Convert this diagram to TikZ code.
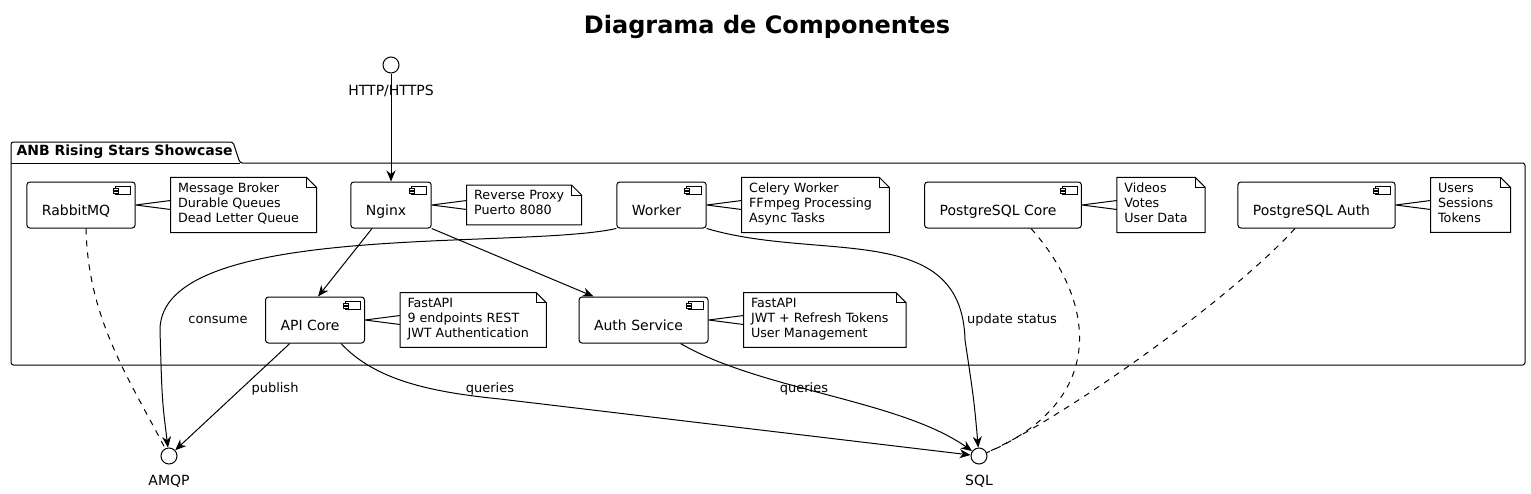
\documentclass[tikz,border=0pt]{standalone}
\usepackage{fontspec}
\setmainfont{DejaVu Sans}
\usetikzlibrary{arrows.meta, positioning, calc}
\tikzstyle{comp} = [draw, rounded corners=3pt, font=\fontsize{14}{17}\selectfont, inner xsep=15pt, inner ysep=11pt, text height=22pt, text depth=2pt, execute at end node={\hspace*{10pt}}, append after command={\pgfextra{
    \draw[line width=0.8pt, rounded corners=0pt] ($(\tikzlastnode.north east)+(-20,5)$) rectangle ($(\tikzlastnode.north east)+(-5,13)$);
    \draw[line width=0.8pt, rounded corners=0pt, fill=white] ($(\tikzlastnode.north east)+(-22,7)$) rectangle ($(\tikzlastnode.north east)+(-17,9)$);
    \draw[line width=0.8pt, rounded corners=0pt, fill=white] ($(\tikzlastnode.north east)+(-22,10)$) rectangle ($(\tikzlastnode.north east)+(-17,12)$);}}]
\tikzstyle{notebox} = [font=\fontsize{12.7}{15}\selectfont, align=left, inner xsep=7pt, inner ysep=5pt, execute at begin node=\strut, execute at end node=\strut, append after command={\pgfextra{
    \draw (\tikzlastnode.north west) -- (\tikzlastnode.north east) -- ($(\tikzlastnode.north east)+(10,10)$) -- ($(\tikzlastnode.south east)+(10,0)$) -- (\tikzlastnode.south west) -- cycle;
    \draw (\tikzlastnode.north east) -- ($(\tikzlastnode.north east)+(0,10)$) -- ($(\tikzlastnode.north east)+(10,10)$);}}]
\tikzstyle{iface} = [circle, draw, minimum size=16pt, inner sep=0pt]
\tikzstyle{ifacetext} = [font=\fontsize{14}{17}\selectfont, inner sep=0pt]
\tikzstyle{lbl} = [font=\fontsize{13}{15}\selectfont, inner sep=0pt]
\tikzstyle{arrow} = [-{Stealth[length=11pt, width=9pt, inset=3.5pt]}]
\tikzstyle{depline} = [dash pattern=on 6pt off 6pt]
\begin{document}
\begin{tikzpicture}[x=1pt, y=-1pt, line width=1pt]
\useasboundingbox (0,0) rectangle (1531,493);

% Title
\node (title) [font=\bfseries\fontsize{24}{28}\selectfont] at (767,27) {Diagrama de Componentes};

% Package
\draw[rounded corners=2.5pt] (11,365) -- (11,142) -- (233,142) -- (240,163) -- (1525,163) -- (1525,365) -- cycle;
\draw (11,163) -- (240,163);
\node (pkgname) [anchor=west, font=\bfseries\fontsize{14}{16}\selectfont, inner sep=0pt] at (16,152) {ANB Rising Stars Showcase};

% Interfaces
\node (http) [iface] at (391,65) {};
\node (httptxt) [ifacetext] at (391,91) {HTTP/HTTPS};
\node (amqp) [iface] at (169,456) {};
\node (amqptxt) [ifacetext] at (169,481) {AMQP};
\node (sql) [iface] at (979,456) {};
\node (sqltxt) [ifacetext] at (979,481) {SQL};

% Components
\node (rabbit) [comp] at (81,205) {RabbitMQ};
\node (nginx) [comp] at (391,205) {Nginx};
\node (worker) [comp] at (661.5,205) {Worker};
\node (pgcore) [comp] at (1003,205) {PostgreSQL Core};
\node (pgauth) [comp] at (1316.5,205) {PostgreSQL Auth};
\node (api) [comp] at (315,320) {API Core};
\node (auth) [comp] at (643.5,320) {Auth Service};

% Notes
\node (rabbitnote) [notebox, right=35pt of rabbit] {Message Broker\\Durable Queues\\Dead Letter Queue};
\node (nginxnote) [notebox, right=35pt of nginx] {Reverse Proxy\\Puerto 8080};
\node (workernote) [notebox, right=35pt of worker] {Celery Worker\\FFmpeg Processing\\Async Tasks};
\node (pgcorenote) [notebox, right=35pt of pgcore] {Videos\\Votes\\User Data};
\node (pgauthnote) [notebox, right=35pt of pgauth] {Users\\Sessions\\Tokens};
\node (apinote) [notebox, right=35pt of api] {FastAPI\\9 endpoints REST\\JWT Authentication};
\node (authnote) [notebox, right=35pt of auth] {FastAPI\\JWT + Refresh Tokens\\User Management};

% Note links
\draw (rabbit.east) -- ([yshift=4.5pt]rabbitnote.west) (rabbit.east) -- ([yshift=-4.5pt]rabbitnote.west);
\draw (nginx.east) -- ([yshift=4.5pt]nginxnote.west) (nginx.east) -- ([yshift=-4.5pt]nginxnote.west);
\draw (worker.east) -- ([yshift=4.5pt]workernote.west) (worker.east) -- ([yshift=-4.5pt]workernote.west);
\draw (pgcore.east) -- ([yshift=4.5pt]pgcorenote.west) (pgcore.east) -- ([yshift=-4.5pt]pgcorenote.west);
\draw (pgauth.east) -- ([yshift=4.5pt]pgauthnote.west) (pgauth.east) -- ([yshift=-4.5pt]pgauthnote.west);
\draw (api.east) -- ([yshift=4.5pt]apinote.west) (api.east) -- ([yshift=-4.5pt]apinote.west);
\draw (auth.east) -- ([yshift=4.5pt]authnote.west) (auth.east) -- ([yshift=-4.5pt]authnote.west);

% Arrows
\draw [arrow] (http) -- (nginx);
\draw [arrow] ([xshift=-19pt]nginx.south) -- ([xshift=3pt]api.north);
\draw [arrow] (nginx.south east) -- ([xshift=15pt]auth.north west);
\draw [arrow] (worker.south west) .. controls (520,250) and (160,220) .. (160,330)
  node [lbl] at (218,320) {consume} .. controls (162,400) .. (amqp);
\draw [arrow] (worker.south east) .. controls (820,262) and (962,220) .. (965,340)
  node [lbl] at (1012,320) {update status} .. controls (974,400) .. (sql);
\draw [arrow] (api) -- (amqp) node [lbl] at (275,389) {publish};
\draw [arrow] ([xshift=-24pt]api.south east) .. controls (375,380) and (430,392) .. (500,399)
  node [lbl] at (490,389) {queries} -- (sql);
\draw [arrow] ([xshift=-28pt]auth.south east) .. controls (760,390) and (900,400) .. (sql)
  node [lbl] at (804,389) {queries};

% Dependencies
\draw [depline] ([xshift=5pt]rabbit.south) .. controls (88,320) and (130,380) .. (amqp);
\draw [depline] ([xshift=28pt]pgcore.south) .. controls (1095,300) and (1110,400) .. (sql);
\draw [depline] ([xshift=-21.5pt]pgauth.south) .. controls (1230,300) and (1060,420) .. (sql);

\end{tikzpicture}
\end{document}
